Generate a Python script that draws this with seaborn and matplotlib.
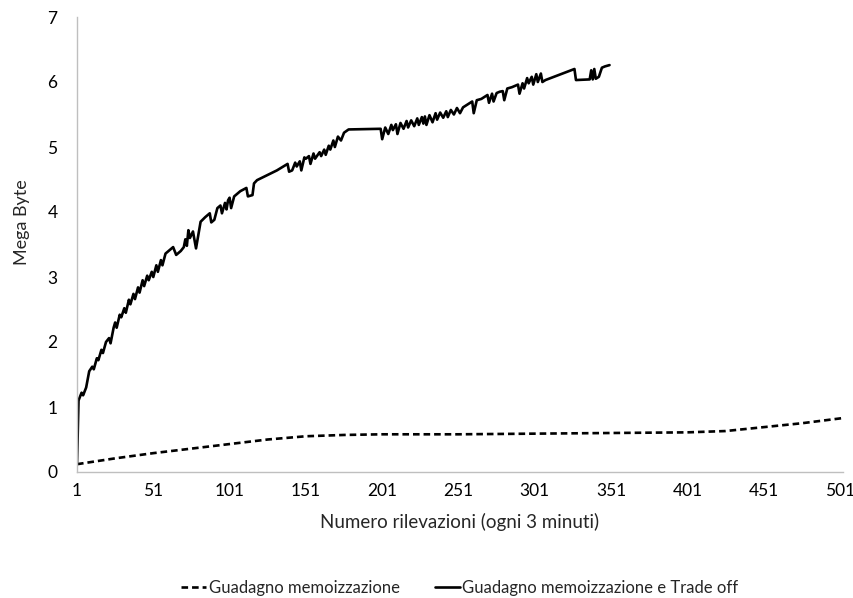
import matplotlib
matplotlib.use("Agg")
import matplotlib.pyplot as plt
import seaborn as sns
import pandas as pd

# ---- data ----
series_names = ["Guadagno memoizzazione", "Guadagno memoizzazione e Trade off"]

memo_x = [1, 26, 51, 76, 101, 126, 151, 176, 201, 251, 301, 351, 401, 426, 451, 476, 503]
memo_y = [0.12, 0.21, 0.29, 0.36, 0.43, 0.50, 0.55, 0.57, 0.58, 0.58, 0.59, 0.60,
          0.61, 0.63, 0.69, 0.75, 0.83]

trade_x = [1, 2, 4, 5, 7, 9, 11, 12, 14, 15, 17, 18, 20, 22, 23, 25, 26, 27, 29, 30,
           32, 33, 35, 36, 38, 39, 41, 42, 44, 45, 47, 48, 50, 51, 53, 54, 56, 57, 59, 61,
           63, 64, 66, 69, 71, 72, 73, 74, 75, 77, 79, 82, 85, 88, 89, 91, 93, 95, 96, 98,
           99, 100, 101, 102, 104, 106, 108, 112, 113, 116, 117, 119, 125, 132, 139, 140, 142, 144, 145, 147,
           148, 150, 151, 153, 154, 156, 157, 160, 161, 163, 164, 166, 167, 169, 170, 172, 174, 176, 179, 200,
           201, 203, 205, 207, 208, 210, 211, 213, 215, 217, 218, 220, 222, 224, 225, 227, 228, 229, 230, 232,
           234, 236, 237, 239, 241, 243, 244, 246, 248, 250, 252, 254, 256, 258, 260, 261, 263, 266, 268, 270,
           271, 273, 274, 276, 278, 280, 281, 283, 286, 288, 290, 291, 293, 294, 296, 297, 299, 300, 302, 303,
           305, 306, 308, 327, 328, 337, 338, 339, 340, 341, 343, 345, 347, 350]
trade_y = [0.12, 1.10, 1.22, 1.18, 1.30, 1.55, 1.62, 1.58, 1.75, 1.72, 1.88, 1.83, 2.00, 2.06, 1.98, 2.22, 2.30, 2.22, 2.42, 2.38,
           2.52, 2.45, 2.65, 2.58, 2.74, 2.66, 2.84, 2.76, 2.95, 2.86, 3.02, 2.95, 3.08, 3.00, 3.18, 3.08, 3.26, 3.18, 3.36, 3.40,
           3.44, 3.46, 3.34, 3.40, 3.46, 3.58, 3.48, 3.72, 3.60, 3.70, 3.44, 3.85, 3.92, 3.98, 3.84, 3.88, 4.06, 4.10, 3.98, 4.14,
           4.04, 4.18, 4.22, 4.06, 4.24, 4.28, 4.32, 4.37, 4.24, 4.26, 4.44, 4.49, 4.56, 4.64, 4.74, 4.62, 4.64, 4.76, 4.70, 4.78,
           4.64, 4.84, 4.82, 4.86, 4.74, 4.90, 4.82, 4.92, 4.86, 4.96, 4.88, 5.02, 4.96, 5.10, 5.00, 5.16, 5.10, 5.22, 5.27, 5.28,
           5.12, 5.30, 5.20, 5.34, 5.26, 5.35, 5.20, 5.37, 5.28, 5.40, 5.30, 5.41, 5.32, 5.44, 5.34, 5.46, 5.36, 5.47, 5.34, 5.49,
           5.38, 5.52, 5.42, 5.53, 5.45, 5.55, 5.46, 5.57, 5.50, 5.60, 5.52, 5.61, 5.64, 5.67, 5.70, 5.52, 5.72, 5.74, 5.77, 5.80,
           5.68, 5.82, 5.70, 5.83, 5.85, 5.86, 5.72, 5.90, 5.92, 5.94, 5.96, 5.82, 5.98, 5.90, 6.06, 5.98, 6.08, 5.96, 6.12, 6.00,
           6.13, 6.00, 6.03, 6.20, 6.03, 6.04, 6.18, 6.04, 6.20, 6.05, 6.08, 6.22, 6.24, 6.26]

x_ticks = [1, 51, 101, 151, 201, 251, 301, 351, 401, 451, 501]
y_ticks = [0, 1, 2, 3, 4, 5, 6, 7]

df = pd.concat([
    pd.DataFrame({"x": memo_x, "y": memo_y, "serie": series_names[0]}),
    pd.DataFrame({"x": trade_x, "y": trade_y, "serie": series_names[1]}),
], ignore_index=True)

sns.set_theme(style="white")
plt.rcParams["font.family"] = ["Lato", "DejaVu Sans"]

fig = plt.figure(figsize=(8.54, 5.98), dpi=100)
ax = fig.add_axes([77/854, 1-472/598, (843-77)/854, (472-17)/598])

sns.lineplot(data=df, x="x", y="y", hue="serie", style="serie",
             hue_order=series_names, style_order=series_names,
             palette=["black", "black"],
             dashes={series_names[0]: (2.5, 1.5), series_names[1]: ""},
             linewidth=1.9, sort=False, estimator=None, ax=ax)

ax.set_xlim(1, 503)
ax.set_ylim(0, 7)
ax.set_xticks(x_ticks)
ax.set_yticks(y_ticks)
ax.tick_params(axis="both", labelsize=12.5, colors="black", length=0, pad=8)
ax.tick_params(axis="y", pad=14)
for s in ["top", "right"]:
    ax.spines[s].set_visible(False)
for s in ["left", "bottom"]:
    ax.spines[s].set_color("#bfbfbf")
    ax.spines[s].set_linewidth(1.0)

ax.set_xlabel("Numero rilevazioni (ogni 3 minuti)", fontsize=13.5, labelpad=10)
ax.set_ylabel("Mega Byte", fontsize=13, labelpad=14)
ax.yaxis.set_label_coords(-0.062, (472 - 222) / 455)

ax.legend(loc="upper center", bbox_to_anchor=(0.5, -0.205), ncol=2, frameon=False,
          fontsize=12, handlelength=1.5, handletextpad=0.15, columnspacing=2.1)

fig.savefig("out.png", dpi=100)
